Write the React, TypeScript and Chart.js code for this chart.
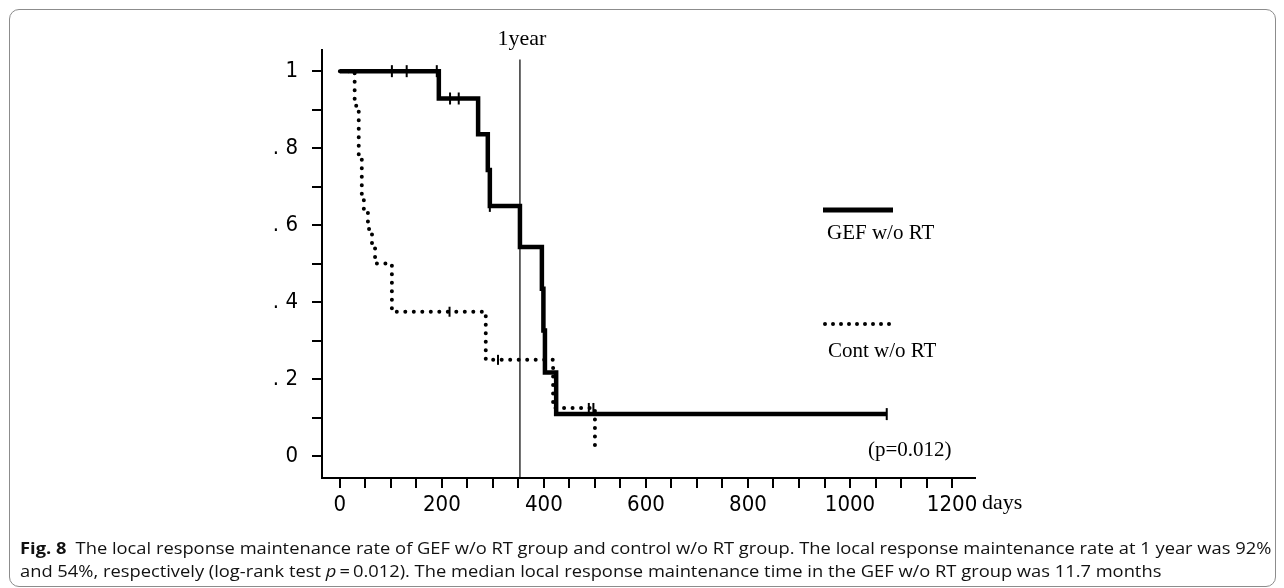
import React, { useEffect, useLayoutEffect, useRef } from "react";
import { Chart, registerables } from "chart.js";

Chart.register(...registerables);

// ---- data (days, survival rate) ----
const gefDays = [0, 194, 271, 290, 294, 353, 396, 399, 402, 424, 1072];
const gefRate = [1, 0.929, 0.836, 0.743, 0.65, 0.543, 0.435, 0.326, 0.217, 0.109, 0.109];
const gefCensorDays = [102, 131, 190, 216, 233, 294, 1072];
const gefCensorRate = [1, 1, 1, 0.929, 0.929, 0.65, 0.109];

const contDays = [0, 29, 37, 43, 47, 55, 63, 69, 102, 286, 418, 500];
const contRate = [1, 0.91, 0.77, 0.68, 0.64, 0.59, 0.55, 0.5, 0.375, 0.25, 0.125, 0.01];
const contCensorDays = [215, 310, 488, 497];
const contCensorRate = [0.375, 0.25, 0.125, 0.125];

const oneYearDay = 353;
const oneYearTop = 1.03;

const xTickValues = [0, 50, 100, 150, 200, 250, 300, 350, 400, 450, 500, 550, 600, 650, 700, 750, 800, 850, 900, 950, 1000, 1050, 1100, 1150, 1200];
const xLabelValues = [0, 200, 400, 600, 800, 1000, 1200];
const yTickValues = [0, 0.1, 0.2, 0.3, 0.4, 0.5, 0.6, 0.7, 0.8, 0.9, 1];
const yLabelValues = [0, 0.2, 0.4, 0.6, 0.8, 1];
const yLabelTexts = ["0", ". 2", ". 4", ". 6", ". 8", "1"];

const seriesNames = ["GEF w/o RT", "Cont w/o RT"];
const pText = "(p=0.012)";
const yearText = "1year";
const daysText = "days";

const SANS = "'Liberation Sans Narrow', 'DejaVu Sans Condensed', 'Liberation Sans', sans-serif";
const SERIF = "'Liberation Serif', 'DejaVu Serif', serif";

const pts = (xs: number[], ys: number[]) => xs.map((x, i) => ({ x, y: ys[i] }));

const overlayPlugin = {
  id: "overlay",
  afterDraw(chart: any) {
    const ctx = chart.ctx;
    const xs = chart.scales.x;
    const ys = chart.scales.y;
    ctx.save();
    ctx.fillStyle = "#000";
    ctx.strokeStyle = "#000";
    ctx.textBaseline = "middle";
    // 1year label
    ctx.font = `22px ${SERIF}`;
    ctx.textAlign = "center";
    ctx.fillText(yearText, xs.getPixelForValue(oneYearDay) + 2, 39);
    // days label
    ctx.textAlign = "left";
    ctx.fillText(daysText, 982, 503);
    // p value
    ctx.font = `21px ${SERIF}`;
    ctx.fillText(pText, 868, 450);
    // legend
    ctx.lineWidth = 5;
    ctx.beginPath();
    ctx.moveTo(823, 210);
    ctx.lineTo(893, 210);
    ctx.stroke();
    ctx.lineWidth = 4;
    ctx.lineCap = "round";
    ctx.setLineDash([0, 8]);
    ctx.beginPath();
    ctx.moveTo(825, 324);
    ctx.lineTo(897, 324);
    ctx.stroke();
    ctx.setLineDash([]);
    ctx.font = `21px ${SERIF}`;
    ctx.fillText(seriesNames[0], 827, 233);
    ctx.fillText(seriesNames[1], 828, 351);
    ctx.restore();
  },
};

export default function App() {
  const canvasRef = useRef<HTMLCanvasElement | null>(null);
  const line1Ref = useRef<HTMLDivElement | null>(null);
  const line2Ref = useRef<HTMLDivElement | null>(null);

  useLayoutEffect(() => {
    const l1 = line1Ref.current;
    const l2 = line2Ref.current;
    if (!l1 || !l2) return;
    const w = l1.scrollWidth;
    const s = w > 0 ? 1251 / w : 1;
    l1.style.transform = `scaleX(${s})`;
    l2.style.transform = `scaleX(${s})`;
  }, []);

  useEffect(() => {
    if (!canvasRef.current) return;
    const chart = new Chart(canvasRef.current, {
      type: "scatter",
      data: {
        datasets: [
          {
            label: "year",
            data: [
              { x: oneYearDay, y: oneYearTop },
              { x: oneYearDay, y: -0.06 },
            ],
            showLine: true,
            borderColor: "#000",
            borderWidth: 1.2,
            pointRadius: 0,
          },
          {
            label: seriesNames[1],
            data: pts(contDays, contRate),
            showLine: true,
            stepped: true,
            borderColor: "#000",
            borderWidth: 4,
            borderDash: [0, 8.5],
            borderCapStyle: "round",
            pointRadius: 0,
          },
          {
            label: "contCensor",
            data: pts(contCensorDays, contCensorRate),
            showLine: false,
            pointStyle: "line",
            rotation: 90,
            pointRadius: 5,
            borderColor: "#000",
            borderWidth: 2,
          },
          {
            label: seriesNames[0],
            data: pts(gefDays, gefRate),
            showLine: true,
            stepped: true,
            borderColor: "#000",
            borderWidth: 4.5,
            borderCapStyle: "butt",
            pointRadius: 0,
          },
          {
            label: "gefCensor",
            data: pts(gefCensorDays, gefCensorRate),
            showLine: false,
            pointStyle: "line",
            rotation: 90,
            pointRadius: 6,
            borderColor: "#000",
            borderWidth: 2,
          },
        ],
      } as any,
      options: {
        animation: false,
        responsive: false,
        maintainAspectRatio: false,
        layout: { padding: { left: 0, top: 50, right: 309, bottom: 0 } },
        plugins: { legend: { display: false }, tooltip: { enabled: false } },
        elements: { line: { tension: 0 } },
        scales: {
          x: {
            type: "linear",
            min: -35,
            max: 1245,
            afterBuildTicks: (scale: any) => {
              scale.ticks = xTickValues.map((v) => ({ value: v }));
            },
            afterFit: (scale: any) => {
              scale.height = 110;
            },
            ticks: {
              autoSkip: false,
              maxRotation: 0,
              padding: 4,
              color: "#000",
              font: { family: SANS, size: 22 },
              callback: (v: any) => (xLabelValues.includes(Number(v)) ? String(v) : ""),
            },
            grid: {
              drawOnChartArea: false,
              drawTicks: true,
              tickLength: 10,
              color: "#000",
              lineWidth: 2,
            },
            border: { display: true, color: "#000", width: 2 },
          },
          y: {
            type: "linear",
            min: -0.057,
            max: 1.055,
            afterBuildTicks: (scale: any) => {
              scale.ticks = yTickValues.map((v) => ({ value: v }));
            },
            afterFit: (scale: any) => {
              scale.width = 322;
            },
            ticks: {
              autoSkip: false,
              padding: 14,
              color: "#000",
              font: { family: SANS, size: 22 },
              callback: (v: any) => {
                const idx = yLabelValues.findIndex((t) => Math.abs(t - Number(v)) < 1e-6);
                return idx >= 0 ? yLabelTexts[idx] : "";
              },
            },
            grid: {
              drawOnChartArea: false,
              drawTicks: true,
              tickLength: 10,
              color: "#000",
              lineWidth: 2,
            },
            border: { display: true, color: "#000", width: 2 },
          },
        },
      } as any,
      plugins: [overlayPlugin],
    });
    return () => chart.destroy();
  }, []);

  const capStyle: React.CSSProperties = {
    position: "absolute",
    left: 20,
    whiteSpace: "nowrap",
    fontFamily: "'Open Sans', 'Noto Sans', sans-serif",
    fontSize: 16,
    lineHeight: "20px",
    color: "#111",
    transformOrigin: "left center",
  };

  return (
    <div style={{ position: "fixed", left: 0, top: 0, width: 1284, height: 588, background: "#fff", overflow: "hidden" }}>
      <div
        style={{
          position: "absolute",
          left: 9,
          top: 9,
          width: 1267,
          height: 578,
          boxSizing: "border-box",
          border: "1.5px solid #8c8c8c",
          borderRadius: 10,
        }}
      />
      <canvas ref={canvasRef} width={1284} height={588} style={{ position: "absolute", left: 0, top: 0, display: "block" }} />
      <div ref={line1Ref} style={{ ...capStyle, top: 538 }}>
        <b>Fig. 8</b>
        {"\u2002The local response maintenance rate of GEF w/o RT group and control w/o RT group. The local response maintenance rate at 1 year was 92%"}
      </div>
      <div ref={line2Ref} style={{ ...capStyle, top: 561 }}>
        {"and 54%, respectively (log-rank test "}
        <i>p</i>
        {"\u2009=\u20090.012). The median local response maintenance time in the GEF w/o RT group was 11.7 months"}
      </div>
    </div>
  );
}
